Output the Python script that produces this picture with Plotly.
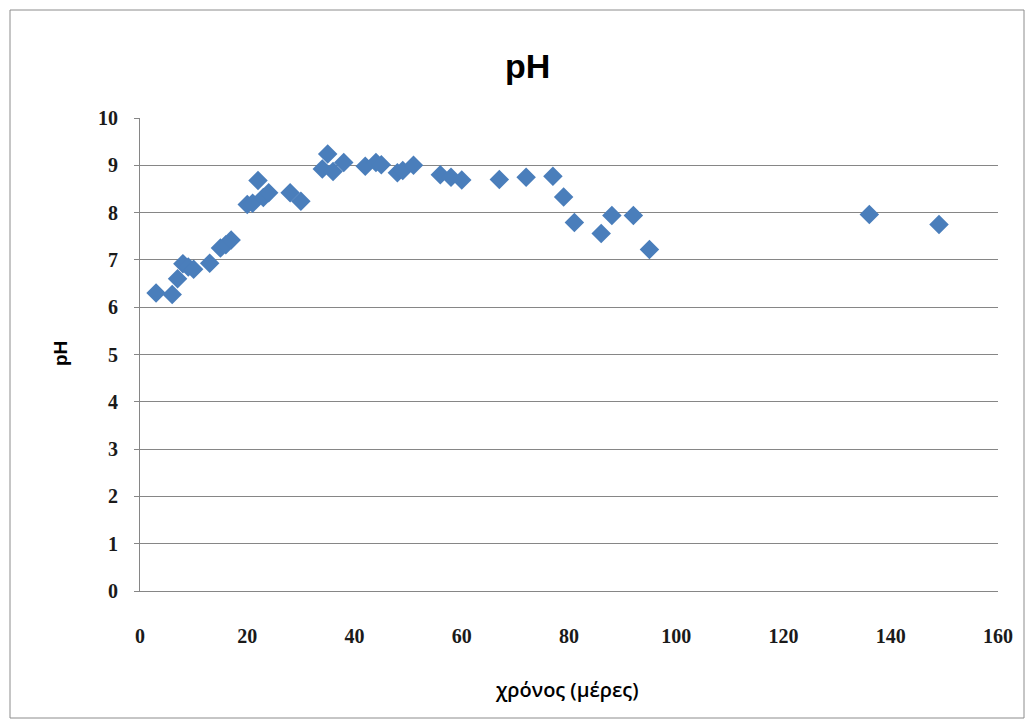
import plotly.graph_objects as go

days = [3, 6, 7, 8, 9, 10, 13, 15, 16, 17, 20, 21, 22, 23, 24, 28, 30,
        34, 35, 36, 38, 42, 44, 45, 48, 49, 51, 56, 58, 60, 67, 72, 77, 79,
        81, 86, 88, 92, 95, 136, 149]
ph = [6.3, 6.27, 6.6, 6.92, 6.85, 6.8, 6.93, 7.25, 7.32, 7.42, 8.17, 8.2, 8.68, 8.32, 8.42, 8.42, 8.24,
      8.92, 9.24, 8.87, 9.06, 8.98, 9.06, 9.01, 8.84, 8.89, 9.0, 8.8, 8.75, 8.69, 8.7, 8.75, 8.77, 8.33,
      7.79, 7.56, 7.94, 7.94, 7.22, 7.96, 7.75]

x_ticks = [0, 20, 40, 60, 80, 100, 120, 140, 160]
y_ticks = [0, 1, 2, 3, 4, 5, 6, 7, 8, 9, 10]

W, H = 1035, 722
L, R, T, B = 140, 37, 118, 131
pw, ph_ = W - L - R, H - T - B

def px(xp):
    return (xp - L) / pw

def py(yp):
    return 1 - (yp - T) / ph_

tickfont = dict(family="Liberation Serif", size=20, color="#1a1a1a", weight="bold")

fig = go.Figure()
fig.add_trace(go.Scatter(
    x=days, y=ph, mode="markers",
    marker=dict(symbol="diamond", size=15, color="#4A7EBB",
                line=dict(width=0)),
    showlegend=False, cliponaxis=False,
))

fig.update_layout(
    width=W, height=H,
    margin=dict(l=L, r=R, t=T, b=B),
    paper_bgcolor="white", plot_bgcolor="white",
    xaxis=dict(range=[0, 160], tickvals=x_ticks, showgrid=False,
               showline=True, linecolor="#868686", linewidth=1,
               ticks="", zeroline=False,
               tickfont=tickfont,
               ticklabelstandoff=27),
    yaxis=dict(range=[0, 10], tickvals=y_ticks, showgrid=True,
               gridcolor="#868686", gridwidth=1,
               showline=True, linecolor="#868686", linewidth=1,
               ticks="outside", ticklen=5, tickcolor="#868686",
               zeroline=False,
               tickfont=tickfont,
               ticklabelstandoff=12),
    annotations=[
        dict(text="<b>pH</b>", x=px(527), y=py(66), xref="paper", yref="paper",
             showarrow=False, font=dict(family="Liberation Sans", size=34, color="black"),
             xanchor="center", yanchor="middle"),
        dict(text="<b>pH</b>", x=px(60), y=py(354), xref="paper", yref="paper",
             showarrow=False, textangle=-90,
             font=dict(family="Liberation Sans", size=19, color="black"),
             xanchor="center", yanchor="middle"),
        dict(text="χρόνος (μέρες)", x=px(566), y=py(689), xref="paper", yref="paper",
             showarrow=False,
             font=dict(family="Open Sans", size=20, color="black", weight=600),
             xanchor="center", yanchor="middle"),
    ],
    shapes=[
        dict(type="rect", xref="paper", yref="paper",
             x0=px(10), x1=px(1024), y0=py(718), y1=py(10),
             line=dict(color="#8C8C8C", width=1), fillcolor="rgba(0,0,0,0)", layer="below"),
    ],
)

fig.write_html("out.html")
